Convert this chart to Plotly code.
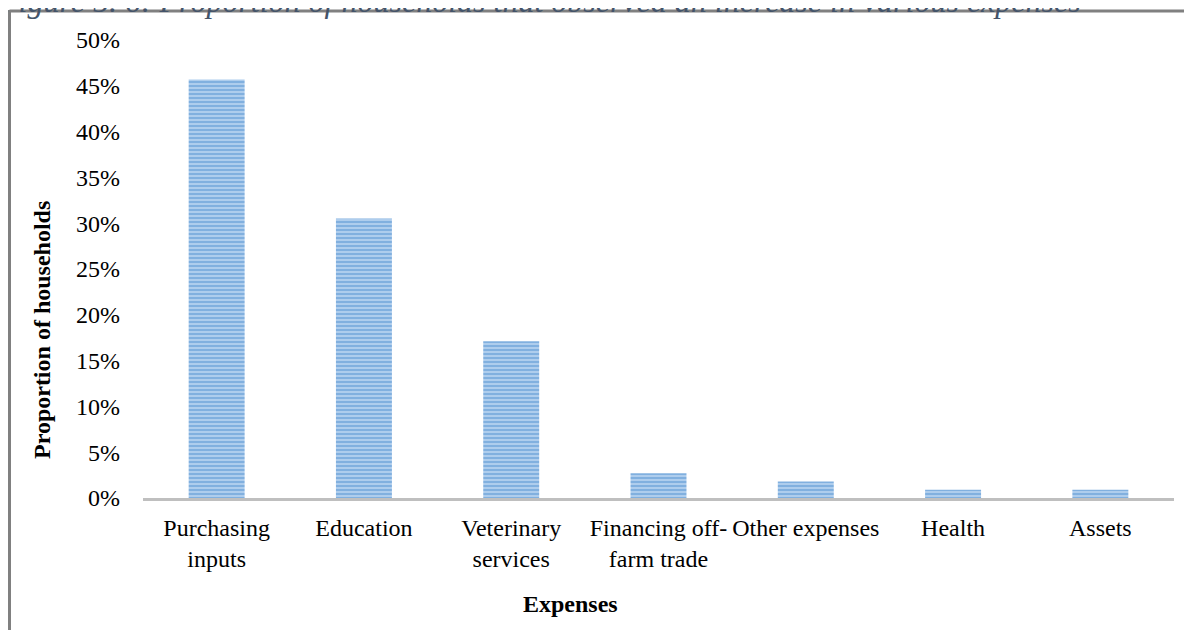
import plotly.graph_objects as go

categories = ["Purchasing<br>inputs", "Education", "Veterinary<br>services",
              "Financing off-<br>farm trade", "Other expenses", "Health", "Assets"]
values = [45.7, 30.5, 17.1, 2.7, 1.8, 0.9, 0.9]
y_ticks = [0, 5, 10, 15, 20, 25, 30, 35, 40, 45, 50]
y_tick_text = [f"{v}%" for v in y_ticks]

W, H = 1192, 630
OFF = 8  # page body margin offset
L, R, T, B = 143 - OFF, 26, 40 - OFF, 140
pw, ph = W - L - R, H - T - B

def px_x(x):
    # screen x -> paper fraction
    x = x - OFF
    return (x - L) / pw

def px_y(y):
    y = y - OFF
    return (H - B - y) / ph

serif = "Liberation Serif, Times New Roman, serif"

fig = go.Figure()
fig.add_trace(go.Bar(
    x=categories, y=values, width=0.38,
    marker=dict(color="#B3D0EE", line=dict(width=0),
                pattern=dict(shape="-", fgcolor="#5090D0", bgcolor="#B3D0EE",
                             size=4, solidity=0.55)),
    hoverinfo="x+y",
))

fig.update_layout(
    width=W, height=H,
    margin=dict(l=L, r=R, t=T, b=B),
    paper_bgcolor="white", plot_bgcolor="white",
    font=dict(family=serif, size=24, color="black"),
    showlegend=False,
    xaxis=dict(showline=True, linecolor="#BFBFBF", linewidth=3, showgrid=False,
               ticks="", tickfont=dict(size=24), ticklabelstandoff=6, fixedrange=True),
    yaxis=dict(range=[0, 50], tickvals=y_ticks, ticktext=y_tick_text, showgrid=False,
               showline=False, zeroline=False, ticks="", tickfont=dict(size=24),
               ticklabelstandoff=22, fixedrange=True),
)

# frame lines (left and top)
fig.add_shape(type="line", xref="paper", yref="paper",
              x0=px_x(9.5), x1=px_x(W + 20), y0=px_y(11), y1=px_y(11),
              line=dict(color="#808080", width=3))
fig.add_shape(type="line", xref="paper", yref="paper",
              x0=px_x(9.5), x1=px_x(9.5), y0=px_y(10), y1=px_y(H + 20),
              line=dict(color="#808080", width=3))

# figure caption (cut at top)
fig.add_annotation(text="<i>Figure 5. 6: Proportion of households that observed an increase in various expenses</i>",
                   xref="paper", yref="paper", x=px_x(-4), y=px_y(1),
                   xanchor="left", yanchor="middle", showarrow=False,
                   font=dict(family=serif, size=32, color="#44546A"))

# axis titles
fig.add_annotation(text="<b>Expenses</b>", xref="paper", yref="paper",
                   x=px_x(570), y=px_y(604), xanchor="center", yanchor="middle",
                   showarrow=False, font=dict(family=serif, size=24, color="black"))
fig.add_annotation(text="<b>Proportion of households</b>", xref="paper", yref="paper",
                   x=px_x(42), y=px_y(330), xanchor="center", yanchor="middle",
                   textangle=-90, showarrow=False,
                   font=dict(family=serif, size=24, color="black"))

fig.write_html("out.html")
